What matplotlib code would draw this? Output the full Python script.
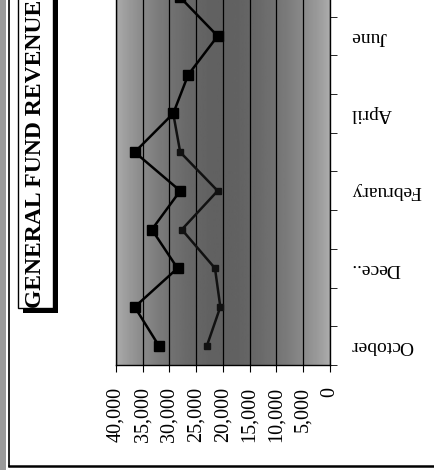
import numpy as np
import matplotlib.pyplot as plt
from matplotlib.patches import Rectangle

# Monthly revenue (image is turned on its side)
months = ['October', 'November', 'December', 'January', 'February',
          'March', 'April', 'May', 'June', 'July']
month_labels = ['October', '', 'Dece..', '', 'February', '', 'April', '', 'June', '']
prior_year = [32000, 36500, 28500, 33300, 28000, 36500, 29300, 26500, 21000, 28000]
current_year = [23000, 20500, 21500, 27700, 21000, 28000, 29300]
value_ticks = [0, 5000, 10000, 15000, 20000, 25000, 30000, 35000, 40000]

serif = 'Liberation Serif'

fig = plt.figure(figsize=(4.35, 4.7), dpi=100)

# page decoration in pixel coordinates
deco = fig.add_axes([0, 0, 1, 1], zorder=0)
deco.set_xlim(0, 435)
deco.set_ylim(470, 0)
deco.axis('off')
deco.add_patch(Rectangle((0, 0), 6, 470, color='#9a9a9a', lw=0))
deco.plot([9, 9], [0, 466], color='black', lw=1.2)
deco.plot([9, 435], [466, 466], color='black', lw=1.8)

# title box with drop shadow
deco.add_patch(Rectangle((23, -10), 35, 323, color='black', lw=0))
deco.add_patch(Rectangle((18, -15), 35, 323, facecolor='white', edgecolor='black', lw=1))
deco.text(36, 154, 'GENERAL FUND REVENUE', rotation=90, ha='center', va='center',
          fontsize=17, fontweight='bold', family=serif)

# chart axes: values run right-to-left, months bottom-to-top
ax = fig.add_axes([116 / 435, 105 / 470, 214 / 435, 387 / 470], zorder=1)
ax.set_xlim(40000, 0)
ax.set_ylim(-0.5, len(months) - 0.5)

t = np.linspace(0, 1, 200)
shade = 0.68 - 0.30 * np.sin(np.pi * t) ** 0.8
ax.imshow(shade[np.newaxis, :], cmap='gray', vmin=0, vmax=1, aspect='auto',
          extent=[40000, 0, -0.5, len(months) - 0.5], zorder=0)

ax.plot(current_year, range(len(current_year)), color='#111111', lw=1.8,
        marker='s', markersize=5, zorder=3)
ax.plot(prior_year, range(len(prior_year)), color='black', lw=1.8,
        marker='s', markersize=7, zorder=4)

ax.set_xticks(value_ticks)
ax.set_xticklabels([f'{v:,}' for v in value_ticks], rotation=90,
                   fontsize=14.5, family=serif)
ax.grid(axis='x', color='black', lw=0.9)
ax.tick_params(axis='x', length=5, pad=11)

ax.yaxis.tick_right()
ax.set_yticks(range(len(months)))
ax.set_yticklabels(month_labels, rotation=180, ha='left', va='center',
                   fontsize=14, family=serif)
ax.set_yticks(np.arange(-0.5, len(months), 1), minor=True)
ax.tick_params(axis='y', which='major', length=0, pad=15)
ax.tick_params(axis='y', which='minor', length=5)

for side in ['left', 'bottom', 'right']:
    ax.spines[side].set_color('black')
    ax.spines[side].set_linewidth(1)
ax.spines['top'].set_visible(False)

fig.savefig('out.png', dpi=100)
